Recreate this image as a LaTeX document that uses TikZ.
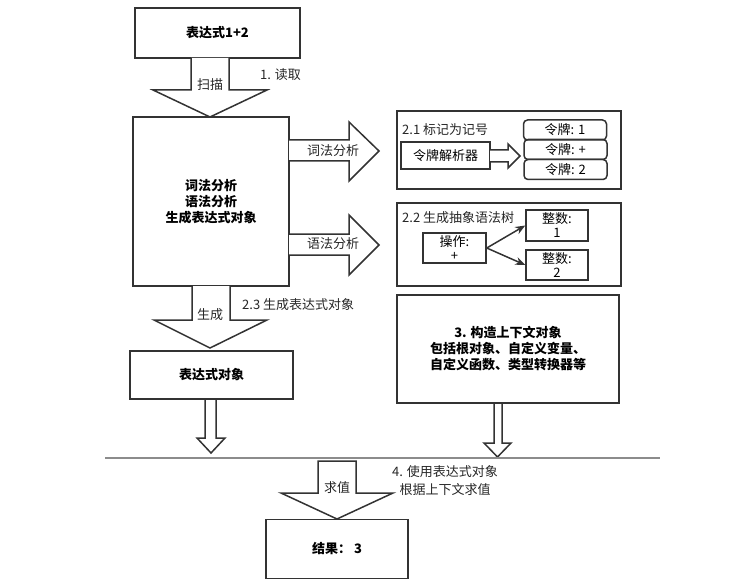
\documentclass[tikz,border=0pt]{standalone}
\usepackage{fontspec}
\setmainfont{Noto Sans CJK SC}
\usetikzlibrary{arrows.meta}
\definecolor{linegray}{HTML}{333333}
\definecolor{sepgray}{HTML}{8C8C8C}
\begin{document}
\begin{tikzpicture}[x=1pt, y=-1pt, font=\fontsize{13}{16}\selectfont, line join=miter, >={Stealth[length=10pt,width=8pt]},
	box/.style={draw=linegray, line width=1.5pt, inner sep=0pt, align=center},
	token/.style={box, rounded corners=4pt, minimum width=83pt, minimum height=20pt},
	blockarrow/.style={draw=linegray, fill=white, line width=1.5pt},
	lbl/.style={inner sep=0pt, text=black!85}]
		\useasboundingbox (0,0) rectangle (730,588);
		% main column
		\node[box, minimum width=165pt, minimum height=50pt] (expr) at (217.5,33) {\textbf{表达式1+2}};
		\node[box, minimum width=156pt, minimum height=169pt] (main) at (211,201.5) {\textbf{词法分析}\\\textbf{语法分析}\\\textbf{生成表达式对象}};
		\node[box, minimum width=163pt, minimum height=48pt] (exprobj) at (211.5,375) {\textbf{表达式对象}};
		\node[box, minimum width=142pt, minimum height=59pt] (result) at (337,549) {\textbf{结果： 3}};
		% right column
		\node[box, minimum width=224pt, minimum height=78pt] (lexbox) at (509,150) {};
		\node[lbl, anchor=west] (lexlbl) at (402,130) {2.1 标记为记号};
		\node[box, minimum width=89pt, minimum height=27pt] (lexer) at (445.5,155.5) {令牌解析器};
		\node[token] (tok1) at (565,130) {令牌: 1};
		\node[token] (tok2) at (565.5,149.5) {令牌: +};
		\node[token] (tok3) at (565.5,169.5) {令牌: 2};
		\node[box, minimum width=224pt, minimum height=83pt] (astbox) at (509,244.5) {};
		\node[lbl, anchor=west] (astlbl) at (402,218) {2.2 生成抽象语法树};
		\node[box, minimum width=63pt, minimum height=30pt, font=\fontsize{13}{14}\selectfont] (op) at (454.5,248) {操作:\\+};
		\node[box, minimum width=62pt, minimum height=31pt, font=\fontsize{13}{14}\selectfont] (int1) at (557,225.5) {整数:\\1};
		\node[box, minimum width=62pt, minimum height=30pt, font=\fontsize{13}{14}\selectfont] (int2) at (557,265) {整数:\\2};
		\node[box, minimum width=222pt, minimum height=108pt] (ctx) at (508,349) {\textbf{3. 构造上下文对象}\\\textbf{包括根对象、自定义变量、}\\\textbf{自定义函数、类型转换器等}};
		% block arrows
		\draw[blockarrow] (191,58) -- (191,90) -- (153,90) -- (210,117) -- (267,90) -- (229,90) -- (229,58);
		\draw[blockarrow] (289,140) -- (349,140) -- (349,122) -- (379,151) -- (349,181) -- (349,161) -- (289,161);
		\draw[blockarrow] (289,234) -- (349,234) -- (349,215) -- (379,245) -- (349,275) -- (349,255) -- (289,255);
		\draw[blockarrow] (192,286) -- (192,320) -- (154,320) -- (210,348) -- (267,320) -- (230,320) -- (230,286);
		\draw[blockarrow] (490,150) -- (508,150) -- (508,144) -- (520,156) -- (508,168) -- (508,162) -- (490,162);
		\draw[blockarrow] (205,400) -- (205,438) -- (197,438) -- (211,453) -- (225,438) -- (216,438) -- (216,400);
		\draw[blockarrow] (494,404) -- (494,443) -- (484,443) -- (497.5,457) -- (511,443) -- (502,443) -- (502,404);
		\draw[blockarrow] (318,461) -- (318,493) -- (281,493) -- (337,519) -- (393,493) -- (356,493) -- (356,461) -- cycle;
		% labels on the arrows
		\node[lbl] (scan) at (210,85) {扫描};
		\node[lbl, anchor=west] (read) at (260,75) {1. 读取};
		\node[lbl] (lexarrow) at (333,151) {词法分析};
		\node[lbl] (synarrow) at (333,244) {语法分析};
		\node[lbl] (gen) at (210,315) {生成};
		\node[lbl, anchor=west] (genlbl) at (242,305) {2.3 生成表达式对象};
		\node[lbl] (evl) at (337,488) {求值};
		\node[lbl, align=center, font=\fontsize{13}{18}\selectfont] (evallbl) at (445,481) {4. 使用表达式对象\\根据上下文求值};
		% syntax tree edges
		\draw[->, linegray, line width=1.5pt] (op.east) -- (int1.west);
		\draw[->, linegray, line width=1.5pt] (op.east) -- (int2.west);
		% separator
		\draw[sepgray, line width=2pt] (105,458) -- (660,458);
	\end{tikzpicture}
\end{document}
